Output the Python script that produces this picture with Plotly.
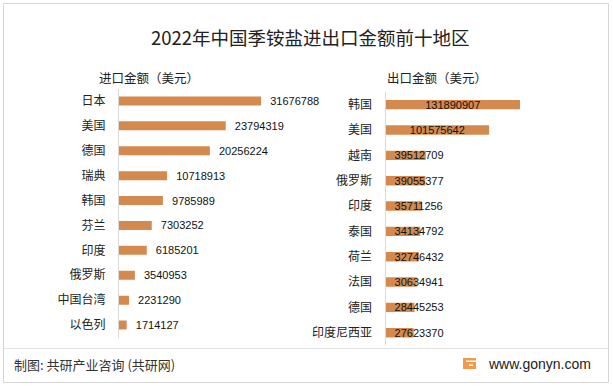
import plotly.graph_objects as go

title_text = "2022年中国季铵盐进出口金额前十地区"

import_regions = ["日本", "美国", "德国", "瑞典", "韩国", "芬兰", "印度", "俄罗斯", "中国台湾", "以色列"]
import_values = [31676788, 23794319, 20256224, 10718913, 9785989, 7303252, 6185201, 3540953, 2231290, 1714127]

export_regions = ["韩国", "美国", "越南", "俄罗斯", "印度", "泰国", "荷兰", "法国", "德国", "印度尼西亚"]
export_values = [131890907, 101575642, 39512709, 39055377, 35711256, 34134792, 32746432, 30634941, 28445253, 27623370]

import_title = "进口金额（美元）"
export_title = "出口金额（美元）"
source_text = "制图: 共研产业咨询 (共研网)"
site_text = "www.gonyn.com"

W, H = 613, 386
BAR = "#D48A4F"
CJK = "Noto Sans CJK SC, Noto Sans, sans-serif"
NUM = "Liberation Sans, Arial, Noto Sans CJK SC, sans-serif"


def px(x):
    return x / W


def py(y):
    return 1 - y / H


fig = go.Figure()

# Left panel: import
fig.add_trace(go.Bar(
    x=import_values, y=import_regions, orientation="h",
    marker=dict(color=BAR, line=dict(width=0)), width=0.36,
    text=["  " + str(v) for v in import_values], textposition="outside",
    constraintext="none",
    textfont=dict(family=NUM, size=11, color="#111"), cliponaxis=False,
    xaxis="x", yaxis="y", hoverinfo="skip", showlegend=False,
))

# Right panel: export (large bars centred labels, small bars labels at base)
n_big = 2
fig.add_trace(go.Bar(
    x=export_values[:n_big], y=export_regions[:n_big], orientation="h",
    marker=dict(color=BAR, line=dict(width=0)), width=0.37,
    text=[str(v) for v in export_values[:n_big]], textposition="inside",
    insidetextanchor="middle", constraintext="none",
    textfont=dict(family=NUM, size=11, color="#111"), cliponaxis=False,
    xaxis="x2", yaxis="y2", hoverinfo="skip", showlegend=False,
))
fig.add_trace(go.Bar(
    x=export_values[n_big:], y=export_regions[n_big:], orientation="h",
    marker=dict(color=BAR, line=dict(width=0)), width=0.37,
    text=["  " + str(v) for v in export_values[n_big:]], textposition="inside",
    insidetextanchor="start", constraintext="none",
    textfont=dict(family=NUM, size=11, color="#111"), cliponaxis=False,
    xaxis="x2", yaxis="y2", hoverinfo="skip", showlegend=False,
))

axis_common = dict(showgrid=False, zeroline=False, fixedrange=True)

fig.update_layout(
    width=W, height=H,
    margin=dict(l=0, r=0, t=0, b=0),
    paper_bgcolor="white", plot_bgcolor="rgba(0,0,0,0)",
    barmode="overlay",
    font=dict(family=CJK, color="#222"),
    xaxis=dict(domain=[px(119), px(276)], range=[0, 35e6], visible=False, anchor="y", **axis_common),
    yaxis=dict(domain=[py(337.5), py(88.5)], anchor="x", type="category",
               categoryorder="array", categoryarray=import_regions, autorange="reversed",
               showline=True, linecolor="#d9d9d9", linewidth=1, ticks="",
               ticklabelstandoff=10, tickfont=dict(family=CJK, size=12, color="#222"),
               **axis_common),
    xaxis2=dict(domain=[px(385.5), px(538.5)], range=[0, 150e6], visible=False, anchor="y2", **axis_common),
    yaxis2=dict(domain=[py(345.4), py(92)], anchor="x2", type="category",
                categoryorder="array", categoryarray=export_regions, autorange="reversed",
                showline=True, linecolor="#d9d9d9", linewidth=1, ticks="",
                ticklabelstandoff=10, tickfont=dict(family=CJK, size=12, color="#222"),
                **axis_common),
    shapes=[
        dict(type="rect", xref="paper", yref="paper", x0=px(3.5), x1=px(608.5), y0=py(382.5), y1=py(3.5),
             line=dict(color="#d6d6d6", width=1), fillcolor="rgba(0,0,0,0)", layer="above"),
        dict(type="line", xref="paper", yref="paper", x0=px(3.5), x1=px(608.5), y0=py(348.5), y1=py(348.5),
             line=dict(color="#e3e3e3", width=1)),
        dict(type="rect", xref="paper", yref="paper", x0=px(463), x1=px(476), y0=py(369), y1=py(358),
             line=dict(width=0), fillcolor="#F29A4B"),
        dict(type="rect", xref="paper", yref="paper", x0=px(466), x1=px(476), y0=py(362), y1=py(360.5),
             line=dict(width=0), fillcolor="white"),
        dict(type="rect", xref="paper", yref="paper", x0=px(469), x1=px(473), y0=py(366), y1=py(364.5),
             line=dict(width=0), fillcolor="white"),
    ],
    annotations=[
        dict(text=title_text, xref="paper", yref="paper", x=px(310), y=py(37), xanchor="center", yanchor="middle",
             showarrow=False, font=dict(family=CJK, size=18.5, color="#222")),
        dict(text=import_title, xref="paper", yref="paper", x=px(97), y=py(77), xanchor="left", yanchor="middle",
             showarrow=False, font=dict(family=CJK, size=12.5, color="#222")),
        dict(text=export_title, xref="paper", yref="paper", x=px(385), y=py(77), xanchor="left", yanchor="middle",
             showarrow=False, font=dict(family=CJK, size=12.5, color="#222")),
        dict(text=source_text, xref="paper", yref="paper", x=px(12), y=py(364), xanchor="left", yanchor="middle",
             showarrow=False, font=dict(family=CJK, size=13, color="#333")),
        dict(text=site_text, xref="paper", yref="paper", x=px(486), y=py(364), xanchor="left", yanchor="middle",
             showarrow=False, font=dict(family=NUM, size=14, color="#222")),
    ],
)

fig.write_html("out.html", config=dict(displayModeBar=False),
               post_script="document.body.style.margin='0';document.body.style.overflow='hidden';")
